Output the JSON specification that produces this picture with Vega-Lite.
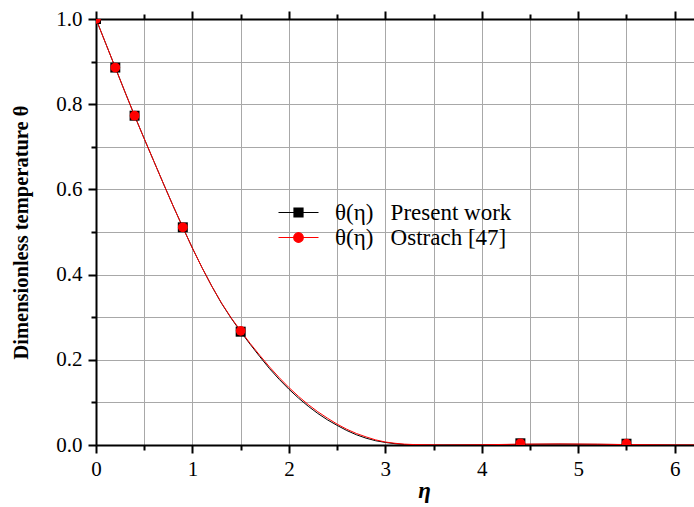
{
  "$schema": "https://vega.github.io/schema/vega-lite/v6.json",
  "width": 598,
  "height": 426,
  "autosize": "none",
  "padding": {"left": 96, "top": 19, "right": 0, "bottom": 62},
  "background": "white",
  "config": {"view": {"stroke": null}},
  "datasets": {
    "curves": [
      {"eta": 0, "theta": 1.0, "series": "Present work"},
      {"eta": 0.1, "theta": 0.943, "series": "Present work"},
      {"eta": 0.2, "theta": 0.886, "series": "Present work"},
      {"eta": 0.3, "theta": 0.829, "series": "Present work"},
      {"eta": 0.4, "theta": 0.773, "series": "Present work"},
      {"eta": 0.5, "theta": 0.719, "series": "Present work"},
      {"eta": 0.6, "theta": 0.666, "series": "Present work"},
      {"eta": 0.7, "theta": 0.613, "series": "Present work"},
      {"eta": 0.8, "theta": 0.561, "series": "Present work"},
      {"eta": 0.9, "theta": 0.511, "series": "Present work"},
      {"eta": 1.0, "theta": 0.462, "series": "Present work"},
      {"eta": 1.1, "theta": 0.416, "series": "Present work"},
      {"eta": 1.2, "theta": 0.373, "series": "Present work"},
      {"eta": 1.3, "theta": 0.333, "series": "Present work"},
      {"eta": 1.4, "theta": 0.298, "series": "Present work"},
      {"eta": 1.5, "theta": 0.266, "series": "Present work"},
      {"eta": 1.6, "theta": 0.236, "series": "Present work"},
      {"eta": 1.7, "theta": 0.207, "series": "Present work"},
      {"eta": 1.8, "theta": 0.179, "series": "Present work"},
      {"eta": 1.9, "theta": 0.154, "series": "Present work"},
      {"eta": 2.0, "theta": 0.131, "series": "Present work"},
      {"eta": 2.1, "theta": 0.110, "series": "Present work"},
      {"eta": 2.2, "theta": 0.091, "series": "Present work"},
      {"eta": 2.3, "theta": 0.074, "series": "Present work"},
      {"eta": 2.4, "theta": 0.059, "series": "Present work"},
      {"eta": 2.5, "theta": 0.046, "series": "Present work"},
      {"eta": 2.6, "theta": 0.034, "series": "Present work"},
      {"eta": 2.7, "theta": 0.024, "series": "Present work"},
      {"eta": 2.8, "theta": 0.016, "series": "Present work"},
      {"eta": 2.9, "theta": 0.010, "series": "Present work"},
      {"eta": 3.0, "theta": 0.006, "series": "Present work"},
      {"eta": 3.1, "theta": 0.003, "series": "Present work"},
      {"eta": 3.2, "theta": 0.001, "series": "Present work"},
      {"eta": 3.3, "theta": 0.0, "series": "Present work"},
      {"eta": 3.6, "theta": 0.0, "series": "Present work"},
      {"eta": 4.0, "theta": 0.0005, "series": "Present work"},
      {"eta": 4.4, "theta": 0.0015, "series": "Present work"},
      {"eta": 4.8, "theta": 0.002, "series": "Present work"},
      {"eta": 5.2, "theta": 0.0015, "series": "Present work"},
      {"eta": 5.5, "theta": 0.001, "series": "Present work"},
      {"eta": 6.0, "theta": 0.0, "series": "Present work"},
      {"eta": 6.2, "theta": 0.0, "series": "Present work"},
      {"eta": 0, "theta": 1.0, "series": "Ostrach [47]"},
      {"eta": 0.1, "theta": 0.943, "series": "Ostrach [47]"},
      {"eta": 0.2, "theta": 0.886, "series": "Ostrach [47]"},
      {"eta": 0.3, "theta": 0.829, "series": "Ostrach [47]"},
      {"eta": 0.4, "theta": 0.773, "series": "Ostrach [47]"},
      {"eta": 0.5, "theta": 0.719, "series": "Ostrach [47]"},
      {"eta": 0.6, "theta": 0.666, "series": "Ostrach [47]"},
      {"eta": 0.7, "theta": 0.613, "series": "Ostrach [47]"},
      {"eta": 0.8, "theta": 0.561, "series": "Ostrach [47]"},
      {"eta": 0.9, "theta": 0.511, "series": "Ostrach [47]"},
      {"eta": 1.0, "theta": 0.462, "series": "Ostrach [47]"},
      {"eta": 1.1, "theta": 0.416, "series": "Ostrach [47]"},
      {"eta": 1.2, "theta": 0.373, "series": "Ostrach [47]"},
      {"eta": 1.3, "theta": 0.334, "series": "Ostrach [47]"},
      {"eta": 1.4, "theta": 0.299, "series": "Ostrach [47]"},
      {"eta": 1.5, "theta": 0.268, "series": "Ostrach [47]"},
      {"eta": 1.6, "theta": 0.238, "series": "Ostrach [47]"},
      {"eta": 1.7, "theta": 0.210, "series": "Ostrach [47]"},
      {"eta": 1.8, "theta": 0.183, "series": "Ostrach [47]"},
      {"eta": 1.9, "theta": 0.158, "series": "Ostrach [47]"},
      {"eta": 2.0, "theta": 0.135, "series": "Ostrach [47]"},
      {"eta": 2.1, "theta": 0.114, "series": "Ostrach [47]"},
      {"eta": 2.2, "theta": 0.095, "series": "Ostrach [47]"},
      {"eta": 2.3, "theta": 0.078, "series": "Ostrach [47]"},
      {"eta": 2.4, "theta": 0.063, "series": "Ostrach [47]"},
      {"eta": 2.5, "theta": 0.049, "series": "Ostrach [47]"},
      {"eta": 2.6, "theta": 0.037, "series": "Ostrach [47]"},
      {"eta": 2.7, "theta": 0.027, "series": "Ostrach [47]"},
      {"eta": 2.8, "theta": 0.019, "series": "Ostrach [47]"},
      {"eta": 2.9, "theta": 0.012, "series": "Ostrach [47]"},
      {"eta": 3.0, "theta": 0.007, "series": "Ostrach [47]"},
      {"eta": 3.1, "theta": 0.004, "series": "Ostrach [47]"},
      {"eta": 3.2, "theta": 0.002, "series": "Ostrach [47]"},
      {"eta": 3.3, "theta": 0.001, "series": "Ostrach [47]"},
      {"eta": 3.6, "theta": 0.0, "series": "Ostrach [47]"},
      {"eta": 4.0, "theta": 0.0005, "series": "Ostrach [47]"},
      {"eta": 4.4, "theta": 0.002, "series": "Ostrach [47]"},
      {"eta": 4.8, "theta": 0.0025, "series": "Ostrach [47]"},
      {"eta": 5.2, "theta": 0.002, "series": "Ostrach [47]"},
      {"eta": 5.5, "theta": 0.001, "series": "Ostrach [47]"},
      {"eta": 6.0, "theta": 0.0, "series": "Ostrach [47]"},
      {"eta": 6.2, "theta": 0.0, "series": "Ostrach [47]"}
    ],
    "markers": [
      {"eta": 0, "theta": 1.0, "series": "Present work"},
      {"eta": 0.2, "theta": 0.886, "series": "Present work"},
      {"eta": 0.4, "theta": 0.773, "series": "Present work"},
      {"eta": 0.9, "theta": 0.511, "series": "Present work"},
      {"eta": 1.5, "theta": 0.266, "series": "Present work"},
      {"eta": 4.4, "theta": 0.004, "series": "Present work"},
      {"eta": 5.5, "theta": 0.003, "series": "Present work"},
      {"eta": 0, "theta": 1.0, "series": "Ostrach [47]"},
      {"eta": 0.2, "theta": 0.886, "series": "Ostrach [47]"},
      {"eta": 0.4, "theta": 0.773, "series": "Ostrach [47]"},
      {"eta": 0.9, "theta": 0.511, "series": "Ostrach [47]"},
      {"eta": 1.5, "theta": 0.268, "series": "Ostrach [47]"},
      {"eta": 4.4, "theta": 0.004, "series": "Ostrach [47]"},
      {"eta": 5.5, "theta": 0.003, "series": "Ostrach [47]"}
    ]
  },
  "resolve": {"axis": {"x": "independent"}},
  "layer": [
    {
      "data": {"name": "curves"},
      "mark": {"type": "line", "strokeWidth": 1, "clip": true},
      "encoding": {
        "x": {
          "field": "eta", "type": "quantitative",
          "scale": {"domain": [0, 6.2], "nice": false, "zero": false},
          "axis": {
            "orient": "bottom",
            "values": [0, 0.5, 1, 1.5, 2, 2.5, 3, 3.5, 4, 4.5, 5, 5.5, 6],
            "grid": true, "gridColor": "#a8a8a8", "gridWidth": 1,
            "domainColor": "black", "domainWidth": 2,
            "tickColor": "black", "tickWidth": 2,
            "tickSize": {"condition": {"test": "datum.value % 1 === 0", "value": 8}, "value": 5},
            "labelExpr": "datum.value % 1 === 0 ? format(datum.value, 'd') : ''",
            "labelOverlap": false, "labelFlush": false,
            "labelFont": "Liberation Serif", "labelFontSize": 21, "labelColor": "black",
            "labelPadding": 5,
            "title": "η",
            "titleFont": "Liberation Serif", "titleFontSize": 23, "titleFontWeight": "bold",
            "titleFontStyle": "italic", "titleColor": "black",
            "titleX": 328, "titleY": 52, "titleBaseline": "alphabetic", "titleAlign": "center"
          }
        },
        "y": {
          "field": "theta", "type": "quantitative",
          "scale": {"domain": [0, 1], "nice": false},
          "axis": {
            "orient": "left",
            "values": [0, 0.1, 0.2, 0.3, 0.4, 0.5, 0.6, 0.7, 0.8, 0.9, 1.0],
            "grid": true, "gridColor": "#a8a8a8", "gridWidth": 1,
            "domainColor": "black", "domainWidth": 2,
            "tickColor": "black", "tickWidth": 2,
            "tickSize": {"condition": {"test": "round(datum.value * 10) % 2 === 0", "value": 8}, "value": 5},
            "labelExpr": "round(datum.value * 10) % 2 === 0 ? format(datum.value, '.1f') : ''",
            "labelOverlap": false, "labelFlush": false,
            "labelFont": "Liberation Serif", "labelFontSize": 21, "labelColor": "black",
            "labelPadding": 6,
            "title": "Dimensionless temperature θ",
            "titleFont": "Liberation Serif", "titleFontSize": 20.5, "titleFontWeight": "bold",
            "titleColor": "black", "titlePadding": 24
          }
        },
        "color": {
          "field": "series", "type": "nominal",
          "scale": {"domain": ["Present work", "Ostrach [47]"], "range": ["black", "red"]},
          "legend": {
            "orient": "none", "legendX": 191, "legendY": 182, "title": null,
            "padding": 0, "symbolSize": 400, "symbolStrokeWidth": 1.2,
            "symbolType": "M-2,0H2",
            "labelOffset": 25, "rowPadding": 1,
            "labelFont": "Liberation Serif", "labelFontSize": 23, "labelColor": "black",
            "labelLimit": 400,
            "labelExpr": "'θ(η)\u00a0\u00a0 ' + datum.label",
            "encode": {
              "symbols": {
                "update": {
                  "shape": {"signal": "datum.value === 'Present work' ? 'M-2,0H2M-0.45,-0.45H0.45V0.45H-0.45Z' : 'M-2,0H2M0.48,0A0.48,0.48,0,1,1,-0.48,0A0.48,0.48,0,1,1,0.48,0Z'"},
                  "fill": {"signal": "datum.value === 'Present work' ? 'black' : 'red'"},
                  "stroke": {"signal": "datum.value === 'Present work' ? 'black' : 'red'"},
                  "opacity": {"value": 1}
                }
              }
            }
          }
        }
      }
    },
    {
      "data": {"name": "markers"},
      "transform": [{"filter": "datum.series === 'Present work'"}],
      "mark": {"type": "point", "shape": "square", "filled": true, "color": "black", "opacity": 1, "size": 100, "clip": true},
      "encoding": {
        "x": {"field": "eta", "type": "quantitative", "axis": null},
        "y": {"field": "theta", "type": "quantitative"}
      }
    },
    {
      "data": {"name": "markers"},
      "transform": [{"filter": "datum.series === 'Ostrach [47]'"}],
      "mark": {"type": "point", "shape": "circle", "filled": true, "color": "red", "opacity": 1, "size": 95, "clip": true},
      "encoding": {
        "x": {
          "field": "eta", "type": "quantitative",
          "axis": {
            "orient": "top",
            "values": [0, 0.5, 1, 1.5, 2, 2.5, 3, 3.5, 4, 4.5, 5, 5.5, 6],
            "grid": false, "labels": false, "title": null,
            "domainColor": "black", "domainWidth": 2,
            "tickColor": "black", "tickWidth": 2,
            "tickSize": {"condition": {"test": "datum.value % 1 === 0", "value": 8}, "value": 5}
          }
        },
        "y": {"field": "theta", "type": "quantitative"}
      }
    }
  ]
}
